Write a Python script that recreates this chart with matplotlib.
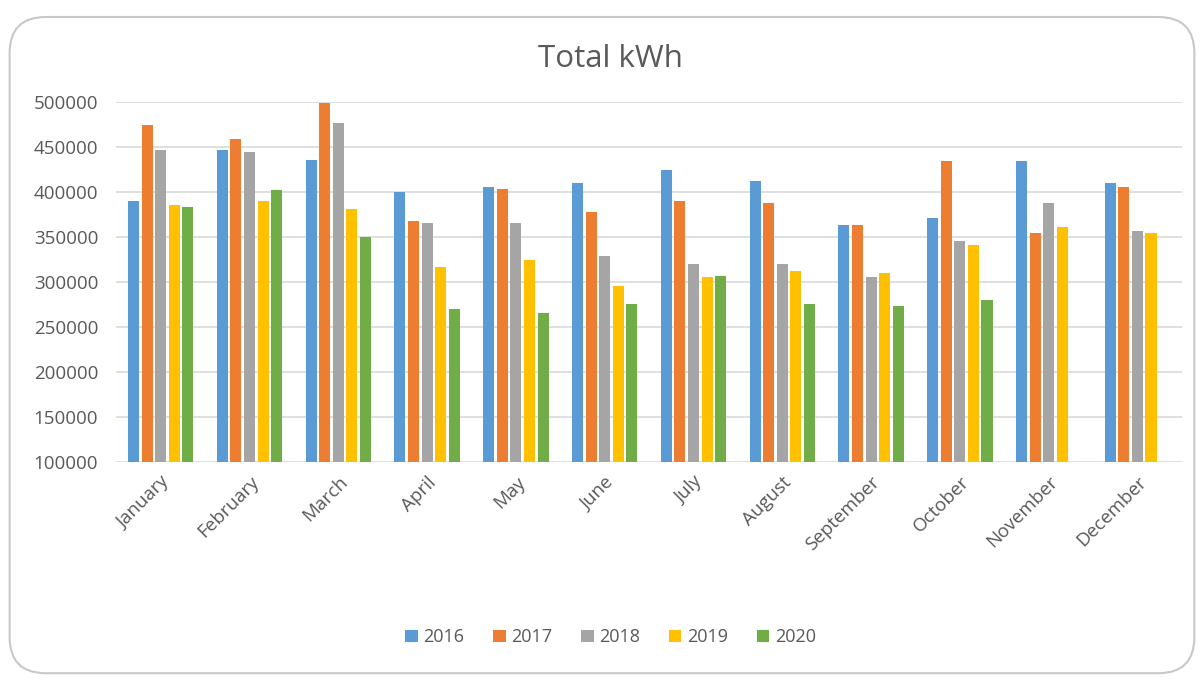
import numpy as np
import matplotlib.pyplot as plt
from matplotlib.patches import FancyBboxPatch

months = ["January", "February", "March", "April", "May", "June", "July",
          "August", "September", "October", "November", "December"]
years = ["2016", "2017", "2018", "2019", "2020"]

kwh_2016 = [390000, 447000, 435000, 400000, 405000, 410000, 424000, 412000, 363000, 371000, 434000, 410000]
kwh_2017 = [474000, 459000, 499000, 368000, 403000, 378000, 390000, 388000, 363000, 434000, 354000, 405000]
kwh_2018 = [447000, 444000, 477000, 366000, 366000, 329000, 320000, 320000, 305000, 346000, 388000, 357000]
kwh_2019 = [386000, 390000, 381000, 317000, 324000, 295000, 305000, 312000, 310000, 341000, 361000, 354000]
kwh_2020 = [383000, 402000, 350000, 270000, 265000, 275000, 307000, 275000, 273000, 280000, np.nan, np.nan]

series = [kwh_2016, kwh_2017, kwh_2018, kwh_2019, kwh_2020]
colors = ["#5b9bd5", "#ed7d31", "#a5a5a5", "#ffc000", "#70ad47"]

plt.rcParams['font.family'] = ['Open Sans', 'DejaVu Sans']
text_col = "#595959"

fig = plt.figure(figsize=(12.04, 6.8), dpi=100)

# rounded frame round the whole chart
frame = FancyBboxPatch((0.008, 0.01), 0.984, 0.965, boxstyle="round,pad=0,rounding_size=0.03",
                       transform=fig.transFigure, facecolor="white", edgecolor="#c8c8c8",
                       linewidth=1.5, mutation_aspect=1.77, zorder=-1)
fig.patches.append(frame)

ax = fig.add_axes([0.0966, 0.3206, 0.885, 0.5294])
ax.set_facecolor("none")
ax.set_zorder(1)

x = np.arange(len(months))
width = 0.125
step = 0.153
for i, (vals, year) in enumerate(zip(series, years)):
    ax.bar(x + (i - 2) * step, vals, width, bottom=0, color=colors[i], label=year, zorder=3)

ax.set_ylim(100000, 500000)
ax.set_xlim(-0.5, len(months) - 0.5)
ax.set_yticks(np.arange(100000, 500001, 50000))
ax.set_yticklabels([str(v) for v in range(100000, 500001, 50000)])
ax.yaxis.grid(True, color="#d9d9d9", linewidth=1.2, zorder=0)
ax.set_xticks(x)
ax.set_xticklabels(months, rotation=45, ha="right", rotation_mode="anchor")
ax.tick_params(axis="both", length=0, colors=text_col, labelsize=13.5)
ax.tick_params(axis="x", pad=8)
ax.tick_params(axis="y", pad=13)
for s in ax.spines.values():
    s.set_visible(False)

fig.text(0.507, 0.913, "Total kWh", ha="center", va="center", fontsize=22.5, color=text_col)

leg = fig.legend(loc="center", bbox_to_anchor=(0.507, 0.063), ncol=5, frameon=False,
                 fontsize=13, handlelength=0.7, handleheight=0.7, handletextpad=0.3,
                 columnspacing=1.6)
for t in leg.get_texts():
    t.set_color(text_col)

fig.savefig("out.png", dpi=100)
